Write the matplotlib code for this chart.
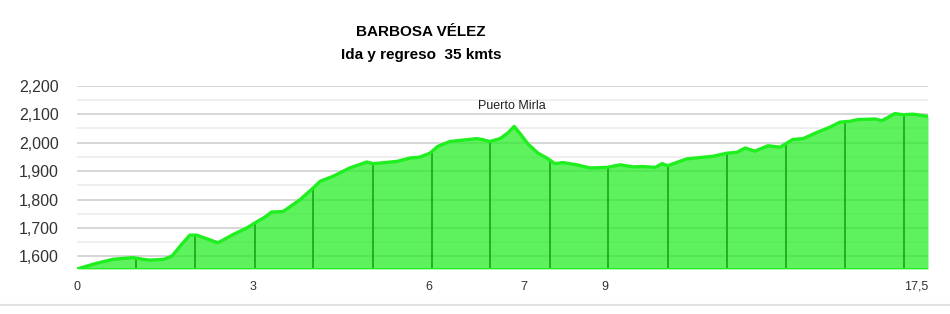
import numpy as np
import matplotlib.pyplot as plt
from matplotlib.lines import Line2D

plt.rcParams["font.family"] = ["Liberation Sans", "DejaVu Sans"]

# elevation profile (km, m)
dist = [0.0, 0.20, 0.40, 0.74, 1.15, 1.36, 1.50, 1.78, 1.95, 2.15, 2.32, 2.46, 2.90, 3.21,
        3.49, 3.66, 3.87, 4.00, 4.24, 4.59, 4.86, 5.00, 5.27, 5.61, 5.96, 6.09, 6.58, 6.85,
        7.05, 7.26, 7.42, 7.67, 8.22, 8.33, 8.49, 8.70, 8.86, 8.99, 9.11, 9.27, 9.48, 9.66,
        9.83, 9.99, 10.28, 10.55, 10.90, 11.17, 11.43, 11.64, 11.89, 12.03, 12.15, 12.54,
        13.08, 13.37, 13.57, 13.74, 13.94, 14.21, 14.46, 14.72, 14.93, 15.22, 15.48, 15.69,
        15.90, 16.06, 16.41, 16.55, 16.82, 16.99, 17.19, 17.50]
elev = [1556, 1566, 1576, 1590, 1596, 1590, 1587, 1590, 1601, 1642, 1675, 1675, 1648, 1677,
        1700, 1718, 1739, 1756, 1758, 1800, 1841, 1864, 1882, 1911, 1932, 1926, 1934, 1946,
        1949, 1963, 1987, 2004, 2014, 2011, 2004, 2014, 2034, 2057, 2032, 1996, 1963, 1946,
        1926, 1930, 1922, 1911, 1913, 1922, 1915, 1916, 1913, 1926, 1919, 1943,
        1952, 1963, 1966, 1981, 1970, 1989, 1984, 2011, 2014, 2036, 2054, 2072,
        2075, 2081, 2083, 2077, 2102, 2098, 2100, 2092]

# vertical marker lines inside the profile (km)
vlines = [1.213, 2.426, 3.660, 4.853, 6.087, 7.300, 8.493, 9.727, 10.919, 12.153,
          13.366, 14.579, 15.793, 17.006]

xtick_pos = [0.0, 3.61, 7.24, 9.19, 10.86]
xtick_lab = ["0", "3", "6", "7", "9"]
ytick_major = [1600, 1700, 1800, 1900, 2000, 2100, 2200]
ytick_minor = [1650, 1750, 1850, 1950, 2050, 2150]

YMIN, YMAX = 1556, 2200
XMAX = 17.5

fig = plt.figure(figsize=(9.5, 3.14), dpi=100)
ax = fig.add_axes([77 / 950, 1 - 269 / 314, 851 / 950, (269 - 85.7) / 314])

for v in ytick_major:
    ax.axhline(v, color="#d6d6d6", lw=1.4, zorder=0)
for v in ytick_minor:
    ax.axhline(v, color="#ececec", lw=1.2, zorder=0)

ax.fill_between(dist, elev, YMIN, color="#22ee22", alpha=0.72, lw=0, zorder=1)
ax.plot(dist, elev, color="#1fef1f", lw=2.4, zorder=3, solid_joinstyle="round")

for d in vlines:
    e = float(np.interp(d, dist, elev))
    ax.plot([d, d], [YMIN, e], color="#23b023", lw=1.4, zorder=2)

ax.axhline(YMIN + 1, color="#1fef1f", lw=2.2, zorder=3)

ax.set_xlim(0, XMAX)
ax.set_ylim(YMIN, YMAX)
ax.set_yticks(ytick_major)
ax.set_yticklabels([f"{v:,}" for v in ytick_major], fontsize=11.5, color="#333333")
ax.tick_params(axis="y", length=0, pad=13)
ax.set_xticks(xtick_pos)
ax.set_xticklabels(xtick_lab, fontsize=9, color="#333333")
ax.tick_params(axis="x", length=0, pad=9)
ax.text(XMAX, -0.093, "17,5", transform=ax.get_xaxis_transform(), ha="right", va="center",
        fontsize=9, color="#333333")
for s in ax.spines.values():
    s.set_visible(False)

ax.text(8.95, 2130, "Puerto Mirla", ha="center", va="center", fontsize=9, color="#222222")

fig.text(421 / 950, 1 - 32 / 314, "BARBOSA VÉLEZ", ha="center", va="center",
         fontsize=11, fontweight="bold")
fig.text(421 / 950, 1 - 55 / 314, "Ida y regreso  35 kmts", ha="center", va="center",
         fontsize=11, fontweight="bold")

fig.add_artist(Line2D([0, 1], [1 - 305 / 314] * 2, color="#e2e2e2", lw=1.5))

fig.savefig("out.png", dpi=100)
